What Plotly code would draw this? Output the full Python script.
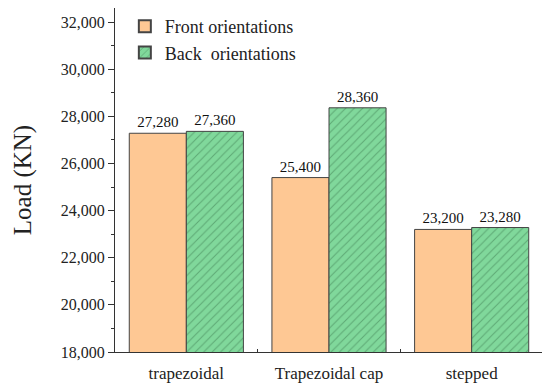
import plotly.graph_objects as go

categories = ["trapezoidal", "Trapezoidal cap", "stepped"]
front_vals = [27280, 25400, 23200]
back_vals = [27360, 28360, 23280]
front_name = "Front orientations"
back_name = "Back  orientations"

font_fam = "Liberation Serif, Times New Roman, serif"

fig = go.Figure()
fig.add_trace(go.Bar(
    x=categories, y=front_vals, name=front_name,
    marker=dict(color="#FEC894", line=dict(color="#444444", width=1)),
    text=[f"{v:,}" for v in front_vals], textposition="outside",
    textfont=dict(family=font_fam, size=15, color="#111"),
    cliponaxis=False,
))
fig.add_trace(go.Bar(
    x=categories, y=back_vals, name=back_name,
    marker=dict(color="#80D89B", line=dict(color="#444444", width=1),
                pattern=dict(shape="/", fgcolor="#3E7A50", bgcolor="#80D89B", size=6, solidity=0.18)),
    text=[f"{v:,}" for v in back_vals], textposition="outside",
    textfont=dict(family=font_fam, size=15, color="#111"),
    cliponaxis=False,
))

# page body has an 8px margin, so the figure is offset by 8px
fig.update_layout(
    width=542, height=381,
    margin=dict(l=107, r=7, t=0, b=37, autoexpand=False),
    paper_bgcolor="white", plot_bgcolor="white",
    barmode="group", bargap=0.2, bargroupgap=0,
    font=dict(family=font_fam, size=16, color="#222"),
    showlegend=True,
    legend=dict(x=0.023, y=1.0, xanchor="left", yanchor="top",
                bgcolor="rgba(0,0,0,0)", font=dict(size=18, family=font_fam),
                tracegroupgap=0, itemsizing="constant"),
    xaxis=dict(showline=True, linecolor="#333", linewidth=1, mirror=True,
               tickson="boundaries", ticks="inside", ticklen=3, tickcolor="#333",
               showgrid=False, tickfont=dict(size=17), ticklabelstandoff=6,
               range=[-0.5, 2.5]),
    yaxis=dict(range=[18000, 32594], dtick=2000, tickformat=",d",
               showline=True, linecolor="#333", linewidth=1, mirror=True,
               ticks="outside", ticklen=6, tickcolor="#333",
               minor=dict(dtick=1000, ticks="outside", ticklen=3, tickcolor="#333"),
               showgrid=False, tickfont=dict(size=16),
               title=dict(text="Load (KN)", font=dict(size=25, family=font_fam), standoff=22)),
)

fig.write_html("out.html")
